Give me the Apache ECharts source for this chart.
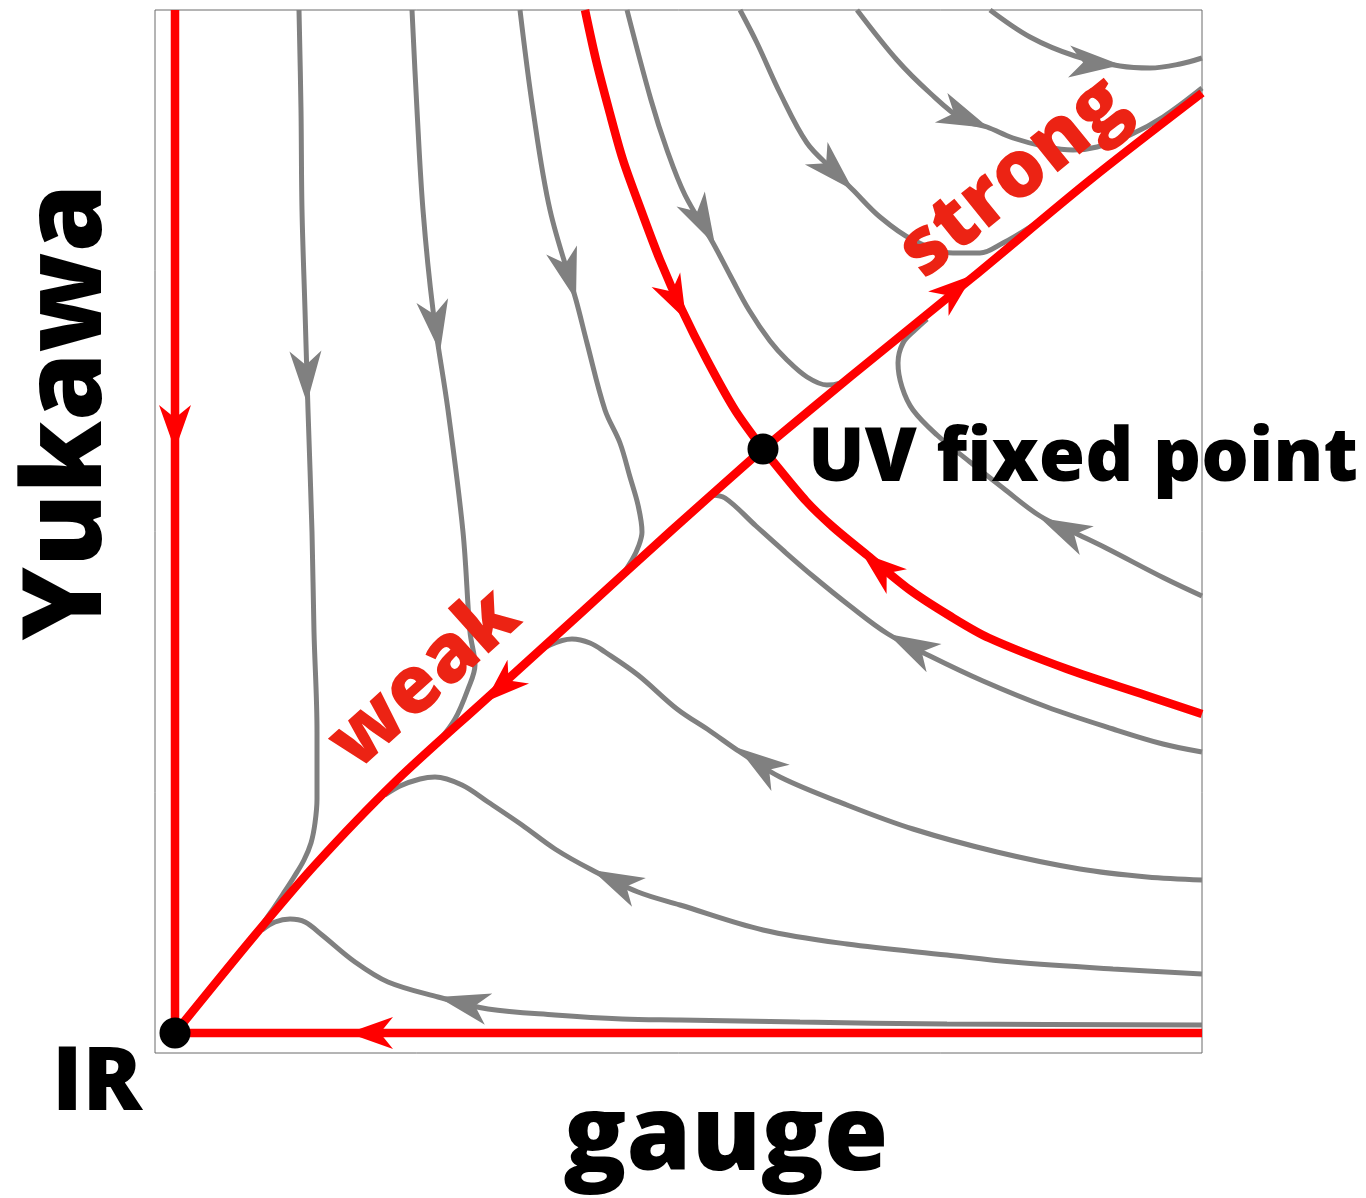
<!DOCTYPE html>
<html><head><meta charset="utf-8">
<script src="https://cdn.jsdelivr.net/npm/echarts@6/dist/echarts.min.js"></script>
<style>html,body{margin:0;padding:0;background:#fff}#c{width:1366px;height:1198px}</style>
</head><body><div id="c"></div>
<script>
// Coordinates: X = gauge coupling, Y = Yukawa coupling (arbitrary units, IR fixed point at origin)
const irPoint = [0, 0];
const uvPoint = [588, 584];

// red separatrices (listed in flow direction)
const redDown = [[0,1023],[0,0]];
const redLeft = [[1027,0],[0,0]];
const weakLine = [[588,584],[497,503],[407,421],[310,333],[220,251],[140,168],[80,98],[0,0]];
const strongLine = [[588,584],[675,656],[798,756],[915,853],[1027,940]];
const redSepTop = [[410,1023],[421,973],[434,923],[448,873],[466,823],[485,773],[507,723],[532,673],[560,623],[588,584]];
const redSepRight = [[1027,319],[970,338],[892,364],[814,395],[775,417],[735,443],[692,478],[658,506],[631,532],[596,574],[588,584]];

// gray flow lines (listed in flow direction)
const g1 = [[124,1023],[126,923],[127,823],[130,723],[133,623],[137,501],[139,401],[142,301],[142,234],[140,210],[136,190],[129,173],[119,156],[108,139],[96,121],[82,101]];
const g2 = [[237,1023],[242,923],[248,823],[258,723],[273,623],[288,501],[295,401],[300,368],[293,344],[280,314],[263,291],[250,278]];
const g3 = [[345,1023],[358,923],[375,823],[401,733],[412,690],[430,623],[445,590],[455,556],[463,528],[467,501],[464,488],[457,473],[445,455]];
const g4 = [[452,1023],[476,933],[492,883],[510,838],[538,790],[556,756],[574,723],[595,692],[612,673],[632,656],[652,648],[665,650],[675,656]];
const g5 = [[565,1023],[582,990],[605,940],[632,890],[658,863],[678,843],[705,816],[738,793],[778,780],[805,780],[828,790],[855,806],[872,818]];
const g6 = [[682,1023],[722,973],[755,940],[788,913],[812,906],[838,895],[872,886],[898,883],[922,886],[955,898],[988,916],[1027,945]];
const g7 = [[815,1023],[855,996],[900,977],[945,967],[975,965],[1005,969],[1027,975]];
const g8 = [[1027,437],[989,455],[931,485],[900,500],[865,517],[828,545],[795,571],[762,598],[738,623],[727,646],[723,670],[728,690],[740,703],[752,714]];
const g9 = [[1027,281],[988,289],[938,304],[872,326],[808,352],[755,377],[713,399],[675,427],[639,456],[610,481],[581,507],[550,535],[535,538]];
const g10 = [[1027,153],[972,156],[905,164],[822,181],[738,204],[672,228],[605,256],[565,281],[535,302],[502,324],[463,358],[430,381],[415,390],[397,394],[375,388],[355,375]];
const g11 = [[1027,59],[938,64],[838,71],[772,78],[672,89],[588,103],[505,128],[463,141],[417,163],[380,184],[347,208],[313,231],[287,248],[260,256],[245,254],[225,247],[210,238]];
const g12 = [[1027,8],[772,9],[625,11],[505,13],[447,14],[380,18],[313,24],[263,36],[213,51],[180,71],[147,98],[130,111],[115,114],[100,111],[87,103]];

// arrow tips: [curve, X, Y]
const redArrows = [['redDown',0,583],['redLeft',173,0],['strongLine',798,758],['weakLine',310,331],['redSepTop',511,713],['redSepRight',687,480]];
const grayArrows = [['g1',132,630],['g2',265,681],['g3',401,733],['g4',540,788],['g5',678,843],['g6',814,905],['g7',946,968],['g8',865,515],['g9',713,399],['g10',563,285],['g11',417,163],['g12',263,36]];

// labels
const xName = 'gauge', yName = 'Yukawa', irName = 'IR', uvName = 'UV fixed point', weakName = 'weak', strongName = 'strong';

const RED = '#ff0000', GRAY = '#808080', LABEL_RED = '#ec2314';
const curveMap = {redDown, redLeft, weakLine, strongLine, redSepTop, redSepRight, g1, g2, g3, g4, g5, g6, g7, g8, g9, g10, g11, g12};
const grayNames = ['g1','g2','g3','g4','g5','g6','g7','g8','g9','g10','g11','g12'];
const redNames = ['redDown','redLeft','weakLine','strongLine','redSepTop','redSepRight'];

const chart = echarts.init(document.getElementById('c'), null, {renderer: 'canvas'});
const series = [];
grayNames.forEach(n => series.push({type:'line', name:n, data:curveMap[n], showSymbol:false, smooth:0.35, silent:true,
  lineStyle:{color:GRAY, width:5, opacity:1}, z:2}));
redNames.forEach(n => series.push({type:'line', name:n, data:curveMap[n], showSymbol:false, smooth:(n==='redDown'||n==='redLeft')?false:0.3, silent:true,
  lineStyle:{color:RED, width:8.5, opacity:1}, z:3}));

const FONT = '"Open Sans", "DejaVu Sans", sans-serif';
const option = {
  animation:false,
  backgroundColor:'#fff',
  grid:{left:155, top:10, width:1047, height:1043, show:true, borderColor:'#6a6a6a', borderWidth:1, backgroundColor:'transparent'},
  xAxis:{type:'value', min:-20, max:1027, axisLine:{show:false}, axisTick:{show:false}, axisLabel:{show:false}, splitLine:{show:false}},
  yAxis:{type:'value', min:-20, max:1023, axisLine:{show:false}, axisTick:{show:false}, axisLabel:{show:false}, splitLine:{show:false}},
  series: series,
  graphic:[
    {type:'text', x:70, y:412, rotation:Math.PI/2, z:100, style:{text:yName, fill:'#000', font:'800 110px '+FONT, align:'center', verticalAlign:'middle'}},
    {type:'text', x:726, y:1140, z:100, style:{text:xName, fill:'#000', font:'800 104px '+FONT, align:'center', verticalAlign:'middle'}},
    {type:'text', x:97, y:1085, z:100, style:{text:irName, fill:'#000', font:'800 88px '+FONT, align:'center', verticalAlign:'middle'}},
    {type:'text', x:808, y:460, z:100, style:{text:uvName, fill:'#000', font:'800 75px '+FONT, align:'left', verticalAlign:'middle'}},
    {type:'text', x:425, y:680, rotation:42*Math.PI/180, z:100, style:{text:weakName, fill:LABEL_RED, font:'800 80px '+FONT, align:'center', verticalAlign:'middle'}},
    {type:'text', x:1014, y:178, rotation:39*Math.PI/180, z:100, style:{text:strongName, fill:LABEL_RED, font:'800 80px '+FONT, align:'center', verticalAlign:'middle'}}
  ]
};
chart.setOption(option);

function arrowItem(curve, tip, half) {
  const pts = curve.map(p => chart.convertToPixel({gridIndex:0}, p));
  const T = chart.convertToPixel({gridIndex:0}, tip);
  let best = Infinity, dir = [1,0];
  for (let i = 0; i < pts.length - 1; i++) {
    const a = pts[i], b = pts[i+1];
    const vx = b[0]-a[0], vy = b[1]-a[1];
    const L2 = vx*vx + vy*vy; if (!L2) continue;
    let t = ((T[0]-a[0])*vx + (T[1]-a[1])*vy) / L2; t = Math.max(0, Math.min(1, t));
    const qx = a[0]+t*vx, qy = a[1]+t*vy;
    const d = (T[0]-qx)**2 + (T[1]-qy)**2;
    if (d < best) { best = d; dir = [vx, vy]; }
  }
  const len = Math.hypot(dir[0], dir[1]); const ux = dir[0]/len, uy = dir[1]/len;
  const C = chart.convertFromPixel({gridIndex:0}, [T[0]-ux*half, T[1]-uy*half]);
  return {value: C, symbolRotate: Math.atan2(-uy, ux)*180/Math.PI - 90};
}

const grayArrowData = grayArrows.map(a => arrowItem(curveMap[a[0]], [a[1], a[2]], 26));
const redArrowData = redArrows.map(a => arrowItem(curveMap[a[0]], [a[1], a[2]], 22.5));

chart.setOption({series: series.concat([
  {type:'scatter', name:'grayArrows', data:grayArrowData, symbol:'path://M0,0L16,52L0,38L-16,52Z', symbolSize:[32,52], itemStyle:{color:GRAY, opacity:1}, silent:true, z:4},
  {type:'scatter', name:'redArrows', data:redArrowData, symbol:'path://M0,0L16,45L0,32L-16,45Z', symbolSize:[32,45], itemStyle:{color:RED, opacity:1}, silent:true, z:5},
  {type:'scatter', name:'fixedPoints', data:[irPoint, uvPoint], symbol:'circle', symbolSize:31, itemStyle:{color:'#000', opacity:1}, silent:true, z:6}
])});
</script></body></html>
